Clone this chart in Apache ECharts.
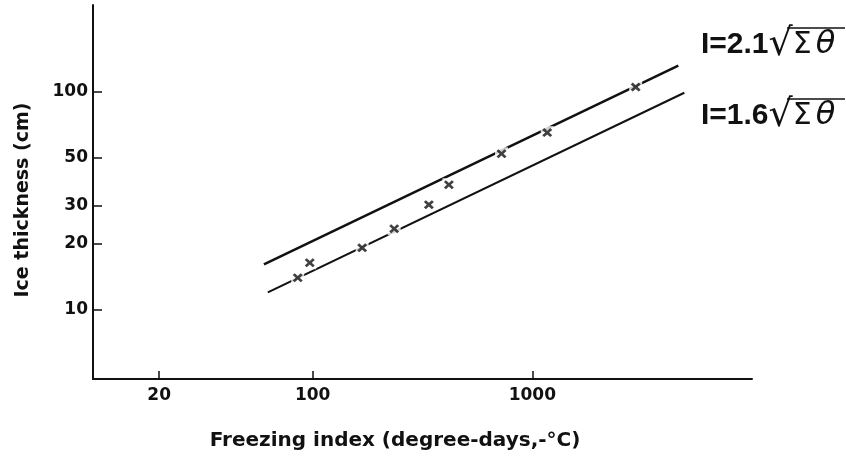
<!DOCTYPE html>
<html><head><meta charset="utf-8">
<script src="https://cdn.jsdelivr.net/npm/echarts@6/dist/echarts.min.js"></script>
<style>html,body{margin:0;padding:0;background:#fff}#c{width:846px;height:465px}</style>
</head><body><div id="c"></div>
<script>
// Measured points (freezing index, degree-days) and ice thickness (cm)
const freezingIndex = [85.5, 97, 168, 235, 338, 417, 724, 1169, 2955];
const iceThickness  = [14.0, 16.4, 19.2, 23.5, 30.3, 37.4, 51.9, 64.9, 105];
// Fitted lines, endpoints
const upperLineX = [60, 4620];
const upperLineY = [16.1, 131.6];
const lowerLineX = [62.5, 4920];
const lowerLineY = [12.0, 98.9];
// Axis ticks
const xTickValues = [20, 100, 1000];
const yTickValues = [10, 20, 30, 50, 100];
const xRange = [10, 10000];
const yRange = [4.8, 250];
// Texts
const xTitle = 'Freezing index (degree-days,-°C)';
const yTitle = 'Ice thickness (cm)';
const upperCoef = 'I=2.1';
const lowerCoef = 'I=1.6';

const ink = '#111';
const pts = freezingIndex.map((x, i) => [x, iceThickness[i]]);
const upperPts = upperLineX.map((x, i) => [x, upperLineY[i]]);
const lowerPts = lowerLineX.map((x, i) => [x, lowerLineY[i]]);
const crossPath = 'path://M0,2L2,0L5,3L8,0L10,2L7,5L10,8L8,10L5,7L2,10L0,8L3,5Z';
const tickFont = {fontFamily: 'DejaVu Sans', fontWeight: 'bold', fontSize: 17, color: ink};

function formulaLabel(coef, y) {
  return {
    type: 'text', x: 701, y: y,
    style: {
      text: '{a|' + coef + '}{r|√}{s|Σ}{t|θ}',
      rich: {
        a: {fontFamily: 'Liberation Sans', fontWeight: 'bold', fontSize: 30, fill: ink, lineHeight: 40, verticalAlign: 'middle'},
        r: {fontFamily: 'DejaVu Sans', fontWeight: 'normal', fontSize: 38, fill: ink, lineHeight: 40, verticalAlign: 'middle'},
        s: {fontFamily: 'DejaVu Sans', fontWeight: 'normal', fontSize: 30, fill: ink, lineHeight: 40, verticalAlign: 'middle', padding: [0, 0, 0, 0]},
        t: {fontFamily: 'DejaVu Sans', fontStyle: 'italic', fontWeight: 'normal', fontSize: 32, fill: ink, lineHeight: 40, verticalAlign: 'middle', padding: [0, 0, 0, 4]}
      },
      fill: ink
    }
  };
}

const chart = echarts.init(document.getElementById('c'), null, {renderer: 'canvas'});
chart.setOption({
  backgroundColor: '#fff',
  animation: false,
  grid: {left: 93, right: 94, top: 5, bottom: 86, containLabel: false},
  xAxis: {
    type: 'log', logBase: 10, min: xRange[0], max: xRange[1],
    axisLine: {lineStyle: {color: ink, width: 2}},
    axisTick: {inside: true, length: 8, lineStyle: {color: ink, width: 1.5}, customValues: xTickValues},
    axisLabel: Object.assign({margin: 8, customValues: xTickValues, formatter: v => String(v)}, tickFont),
    splitLine: {show: false}, minorTick: {show: false}
  },
  yAxis: {
    type: 'log', logBase: 10, min: yRange[0], max: yRange[1],
    axisLine: {lineStyle: {color: ink, width: 2}},
    axisTick: {inside: true, length: 9, lineStyle: {color: ink, width: 1.5}, customValues: yTickValues},
    axisLabel: Object.assign({margin: 5, customValues: yTickValues, formatter: v => String(v)}, tickFont),
    splitLine: {show: false}, minorTick: {show: false}
  },
  series: [
    {type: 'line', data: upperPts, showSymbol: false, z: 2,
     lineStyle: {color: ink, width: 2.5}},
    {type: 'line', data: lowerPts, showSymbol: false, z: 2,
     lineStyle: {color: ink, width: 2}},
    {type: 'scatter', data: pts, symbol: 'rect', symbolSize: 13, z: 3,
     itemStyle: {color: '#fff'}},
    {type: 'scatter', data: pts, symbol: crossPath, symbolSize: [10, 9], z: 4,
     itemStyle: {color: ink}}
  ],
  graphic: [
    {type: 'text', x: 395, y: 441, style: {text: xTitle, fontFamily: 'DejaVu Sans', fontWeight: 'bold', fontSize: 20, fill: ink, align: 'center', verticalAlign: 'middle'}},
    {type: 'text', x: 23, y: 200, rotation: Math.PI / 2, style: {text: yTitle, fontFamily: 'DejaVu Sans', fontWeight: 'bold', fontSize: 19, fill: ink, align: 'center', verticalAlign: 'middle'}},
    formulaLabel(upperCoef, 25),
    formulaLabel(lowerCoef, 96),
    {type: 'line', shape: {x1: 787, y1: 28, x2: 845, y2: 28}, style: {stroke: ink, lineWidth: 1.5}},
    {type: 'line', shape: {x1: 787, y1: 99, x2: 845, y2: 99}, style: {stroke: ink, lineWidth: 1.5}}
  ]
});
</script>
</body></html>
